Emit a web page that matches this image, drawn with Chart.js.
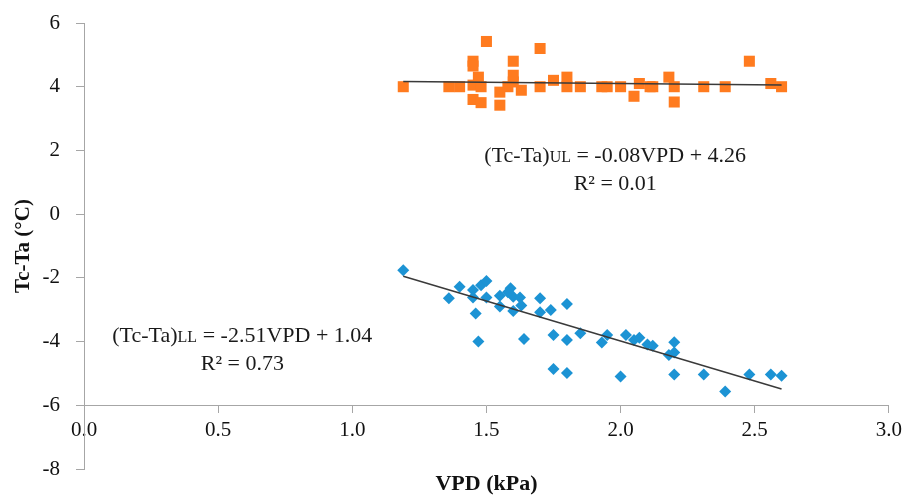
<!DOCTYPE html>
<html>
<head>
<meta charset="utf-8">
<script src="https://cdn.jsdelivr.net/npm/chart.js@4/dist/chart.umd.min.js"></script>
<style>
  html, body { margin: 0; padding: 0; background: #fff; }
  #wrap { width: 908px; height: 497px; }
</style>
</head>
<body>
<div id="wrap"><canvas id="vpdChart"></canvas></div>
<script>
// tick labels
const xTicks = [0, 0.5, 1, 1.5, 2, 2.5, 3];
const yTicks = [-8, -6, -4, -2, 0, 2, 4, 6];

// upper limit (orange squares)
const ulVpd  = [1.19, 1.36, 1.40, 1.45, 1.45, 1.47, 1.45, 1.48, 1.50, 1.45, 1.48, 1.55, 1.55, 1.60, 1.60, 1.58, 1.63, 1.60, 1.70, 1.70, 1.75, 1.80, 1.80, 1.85, 1.93, 1.95, 2.00, 2.05, 2.07, 2.11, 2.12, 2.18, 2.20, 2.20, 2.31, 2.39, 2.48, 2.56, 2.60];
const ulTcTa = [4.00, 4.00, 4.00, 4.80, 4.65, 4.30, 4.05, 4.00, 5.42, 3.60, 3.50, 3.42, 3.83, 4.80, 4.36, 4.00, 3.89, 4.15, 5.20, 4.00, 4.20, 4.30, 4.00, 4.00, 4.00, 4.00, 4.00, 3.70, 4.10, 4.00, 4.00, 4.30, 4.00, 3.52, 4.00, 4.00, 4.80, 4.10, 4.00];

// lower limit (blue diamonds)
const llVpd  = [1.19, 1.36, 1.40, 1.45, 1.45, 1.48, 1.50, 1.50, 1.46, 1.47, 1.55, 1.55, 1.59, 1.60, 1.58, 1.625, 1.63, 1.60, 1.64, 1.70, 1.70, 1.74, 1.80, 1.75, 1.80, 1.75, 1.80, 1.85, 1.93, 1.95, 2.00, 2.02, 2.05, 2.07, 2.10, 2.12, 2.18, 2.20, 2.20, 2.20, 2.31, 2.39, 2.48, 2.56, 2.60];
const llTcTa = [-1.76, -2.64, -2.28, -2.38, -2.62, -2.23, -2.10, -2.62, -3.12, -4.00, -2.56, -2.90, -2.33, -2.59, -2.45, -2.62, -2.87, -3.04, -3.92, -2.64, -3.08, -3.01, -2.82, -3.79, -3.95, -4.86, -4.99, -3.74, -4.03, -3.79, -5.10, -3.79, -3.95, -3.88, -4.09, -4.13, -4.42, -4.02, -4.34, -5.03, -5.03, -5.57, -5.03, -5.03, -5.07];

// trend line ends
const ulTrendVpd  = [1.19, 2.60];
const ulTrendTcTa = [4.16, 4.05];
const llTrendVpd  = [1.19, 2.60];
const llTrendTcTa = [-1.95, -5.49];

const serif = "'Liberation Serif', 'DejaVu Serif', serif";
const axisGray = '#a6a6a6';

function toPoints(xs, ys) {
    return xs.map((x, i) => ({ x: x, y: ys[i] }));
}

// equation labels, anchored in data units
const labels = [
    { x: 1.98, y: 1.85, parts: [['(Tc-Ta)', 22], ['UL', 16], [' = -0.08VPD + 4.26', 22]] },
    { x: 1.98, y: 0.97, parts: [['R² = 0.01', 22]] },
    { x: 0.59, y: -3.79, parts: [['(Tc-Ta)', 22], ['LL', 16], [' = -2.51VPD + 1.04', 22]] },
    { x: 0.59, y: -4.67, parts: [['R² = 0.73', 22]] }
];

const equationText = {
    id: 'equationText',
    afterDatasetsDraw(chart) {
        const ctx = chart.ctx;
        const sx = chart.scales.x, sy = chart.scales.y;
        ctx.save();
        ctx.fillStyle = '#1a1a1a';
        ctx.textBaseline = 'alphabetic';
        labels.forEach(l => {
            let total = 0;
            l.parts.forEach(p => { ctx.font = p[1] + 'px ' + serif; total += ctx.measureText(p[0]).width; });
            let px = sx.getPixelForValue(l.x) - total / 2;
            const py = sy.getPixelForValue(l.y) + 7;
            l.parts.forEach(p => {
                ctx.font = p[1] + 'px ' + serif;
                ctx.fillText(p[0], px, py);
                px += ctx.measureText(p[0]).width;
            });
        });
        ctx.restore();
    }
};

new Chart(document.getElementById('vpdChart'), {
    type: 'scatter',
    data: {
        datasets: [
            {
                label: 'UL',
                data: toPoints(ulVpd, ulTcTa),
                pointStyle: 'rect',
                pointRadius: 7.8,
                backgroundColor: '#ff7b1f',
                borderColor: '#ff7b1f',
                borderWidth: 0,
                order: 2
            },
            {
                label: 'LL',
                data: toPoints(llVpd, llTcTa),
                pointStyle: 'rectRot',
                pointRadius: 6,
                backgroundColor: '#1c93d4',
                borderColor: '#1c93d4',
                borderWidth: 0,
                order: 2
            },
            {
                label: 'UL trend',
                data: toPoints(ulTrendVpd, ulTrendTcTa),
                showLine: true,
                pointRadius: 0,
                borderColor: '#3a3a3a',
                borderWidth: 1.5,
                order: 1
            },
            {
                label: 'LL trend',
                data: toPoints(llTrendVpd, llTrendTcTa),
                showLine: true,
                pointRadius: 0,
                borderColor: '#3a3a3a',
                borderWidth: 1.5,
                order: 1
            }
        ]
    },
    options: {
        responsive: true,
        maintainAspectRatio: false,
        animation: false,
        layout: { padding: { top: 23, right: 16, left: 0, bottom: 0 } },
        plugins: {
            legend: { display: false },
            tooltip: { enabled: false },
            title: {
                display: true,
                text: 'VPD (kPa)',
                position: 'bottom',
                fullSize: false,
                color: '#111',
                font: { family: serif, size: 22, weight: 'bold', lineHeight: 1.0 },
                padding: { top: 4, bottom: 2 }
            }
        },
        scales: {
            x: {
                type: 'linear',
                position: { y: -6 },
                min: 0,
                max: 3,
                afterBuildTicks: s => { s.ticks = xTicks.map(v => ({ value: v })); },
                ticks: {
                    color: '#111',
                    font: { family: serif, size: 21 },
                    padding: 6,
                    maxRotation: 0,
                    callback: v => Number(v).toFixed(1)
                },
                grid: { drawOnChartArea: false, drawTicks: true, tickLength: 7, color: axisGray },
                border: { display: true, color: axisGray, width: 1 }
            },
            y: {
                type: 'linear',
                min: -8,
                max: 6,
                afterBuildTicks: s => { s.ticks = yTicks.map(v => ({ value: v })); },
                afterFit: s => { s.width = 84; s.paddingTop = 10; s.paddingBottom = 10; },
                ticks: {
                    color: '#111',
                    font: { family: serif, size: 21 },
                    padding: 16
                },
                grid: { drawOnChartArea: false, drawTicks: true, tickLength: 8, color: axisGray },
                border: { display: true, color: axisGray, width: 1 },
                title: {
                    display: true,
                    text: 'Tc-Ta (°C)',
                    color: '#111',
                    font: { family: serif, size: 21, weight: 'bold', lineHeight: 1.0 },
                    padding: { top: 13, bottom: 0 }
                }
            }
        }
    },
    plugins: [equationText]
});
</script>
</body>
</html>
